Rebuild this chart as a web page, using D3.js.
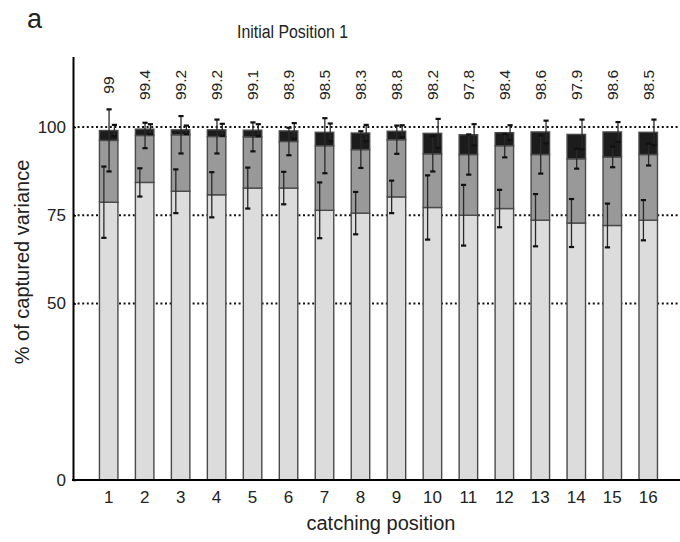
<!DOCTYPE html>
<html>
<head>
<meta charset="utf-8">
<script src="https://cdn.jsdelivr.net/npm/d3@7/dist/d3.min.js"></script>
<style>
  html, body { margin: 0; padding: 0; background: #fff; }
  svg { display: block; font-family: "Liberation Sans", Arial, sans-serif; }
</style>
</head>
<body>
<svg id="chart" width="680" height="542"></svg>
<script>
// Catching positions along the x axis
const positions = ["1","2","3","4","5","6","7","8","9","10","11","12","13","14","15","16"];
// Total captured variance (%) printed above each bar
const totals = [99, 99.4, 99.2, 99.2, 99.1, 98.9, 98.5, 98.3, 98.8, 98.2, 97.8, 98.4, 98.6, 97.9, 98.6, 98.5];
// First component (light segment), % of variance
const pc1 = [78.7, 84.3, 81.8, 80.8, 82.7, 82.7, 76.4, 75.6, 80.2, 77.2, 75.0, 76.9, 73.6, 72.8, 72.1, 73.6];
// Second component (grey segment), % of variance
const pc2 = [17.5, 13.3, 16.0, 16.5, 14.5, 13.2, 18.3, 18.0, 16.2, 15.2, 17.2, 17.8, 18.6, 18.2, 19.4, 18.6];
// Standard deviations of the cumulative values for each component
const sd1 = [10.1, 4.0, 6.2, 6.4, 5.8, 4.6, 7.9, 6.0, 4.6, 9.1, 8.6, 5.3, 7.4, 6.8, 6.2, 5.7];
const sd2 = [8.8, 3.6, 5.3, 4.8, 4.1, 3.9, 7.8, 5.2, 4.0, 5.0, 5.7, 3.3, 5.4, 2.8, 2.9, 3.1];
const sd3 = [1.6, 1.4, 1.2, 1.7, 1.7, 2.2, 2.5, 2.3, 1.7, 4.1, 3.0, 2.1, 3.2, 4.2, 2.8, 3.6];
// Y axis ticks and dotted reference lines
const yTicks = [0, 50, 75, 100];
const gridLines = [50, 75, 100];

const svg = d3.select("#chart");
const W = 680;
const left = 73, bottom = 480;

// third component fills the bar up to the printed total
const rows = positions.map((p, i) => {
  const c1 = pc1[i], c2 = c1 + pc2[i], c3 = totals[i];
  return {
    pos: p,
    segs: [
      {y0: 0, y1: c1, fill: "#dcdcdc"},
      {y0: c1, y1: c2, fill: "#999999"},
      {y0: c2, y1: c3, fill: "#1c1c1c"}
    ],
    errs: [
      {v: c1, sd: sd1[i], off: 0.24},
      {v: c2, sd: sd2[i], off: 0.52},
      {v: c3, sd: sd3[i], off: 0.81}
    ],
    total: totals[i]
  };
});

const y = d3.scaleLinear().domain([0, 120]).range([bottom, 56.4]);
const x = d3.scaleBand().domain(positions)
  .range([90.7, 90.7 + 16 * 35.97])
  .paddingInner(0.486).paddingOuter(0.243);

// dotted reference lines
svg.append("g").selectAll("line").data(gridLines).join("line")
  .attr("x1", left).attr("x2", W)
  .attr("y1", d => y(d)).attr("y2", d => y(d))
  .attr("stroke", "#111").attr("stroke-width", 2)
  .attr("stroke-dasharray", "2,2.6");

// stacked bars
const bars = svg.append("g").selectAll("g").data(rows).join("g");
bars.selectAll("rect").data(d => d.segs.map(s => ({...s, pos: d.pos}))).join("rect")
  .attr("x", d => x(d.pos))
  .attr("width", x.bandwidth())
  .attr("y", d => y(d.y1))
  .attr("height", d => y(d.y0) - y(d.y1))
  .attr("fill", d => d.fill)
  .attr("stroke", "#4a4a4a")
  .attr("stroke-width", 1.4);

// error bars
const errG = bars.selectAll("g.err").data(d => d.errs.map(e => ({...e, pos: d.pos}))).join("g").attr("class", "err");
errG.append("line")
  .attr("x1", d => x(d.pos) + d.off * x.bandwidth())
  .attr("x2", d => x(d.pos) + d.off * x.bandwidth())
  .attr("y1", d => y(d.v + d.sd)).attr("y2", d => y(d.v - d.sd))
  .attr("stroke", "#2a2a2a").attr("stroke-width", 1.3);
errG.selectAll("line.cap").data(d => [d.v + d.sd, d.v - d.sd].map(v => ({v, cx: x(d.pos) + d.off * x.bandwidth()})))
  .join("line").attr("class", "cap")
  .attr("x1", d => d.cx - 2.6).attr("x2", d => d.cx + 2.6)
  .attr("y1", d => y(d.v)).attr("y2", d => y(d.v))
  .attr("stroke", "#111").attr("stroke-width", 2.2);

// totals above the bars
const fmt = v => d3.format(".1f")(v).replace(/\.0$/, "");
svg.append("g").selectAll("text").data(rows).join("text")
  .attr("transform", d => `translate(${x(d.pos) + x.bandwidth() / 2},85) rotate(-90)`)
  .attr("text-anchor", "middle").attr("dy", "0.36em")
  .attr("font-size", 15.5).attr("fill", "#222")
  .text(d => fmt(d.total));

// y axis
const yAxis = svg.append("g").attr("transform", `translate(${left},0)`)
  .call(d3.axisLeft(y).tickValues(yTicks).tickSizeInner(-3).tickSizeOuter(0).tickPadding(7));
yAxis.select(".domain").attr("stroke", "#000").attr("stroke-width", 2);
yAxis.selectAll(".tick line").attr("stroke", "#000").attr("stroke-width", 1.5);
yAxis.selectAll("text").attr("font-size", 17).attr("fill", "#222").attr("font-family", null);

// x axis
const xAxis = svg.append("g").attr("transform", `translate(0,${bottom})`)
  .call(d3.axisBottom(x).tickSize(0).tickPadding(11));
xAxis.select(".domain").remove();
xAxis.selectAll("text").attr("font-size", 17).attr("fill", "#222").attr("font-family", null);
svg.append("line").attr("x1", left - 1).attr("x2", W).attr("y1", bottom).attr("y2", bottom)
  .attr("stroke", "#000").attr("stroke-width", 2);

// titles
svg.append("text").attr("x", 292.5).attr("y", 38).attr("text-anchor", "middle")
  .attr("font-size", 18).attr("fill", "#222")
  .attr("textLength", 111).attr("lengthAdjust", "spacingAndGlyphs")
  .text("Initial Position 1");
svg.append("text").attr("x", 27).attr("y", 28).attr("font-size", 27).attr("fill", "#222").text("a");
svg.append("text").attr("x", 381).attr("y", 530).attr("text-anchor", "middle")
  .attr("font-size", 20).attr("fill", "#222").text("catching position");
svg.append("text").attr("transform", "translate(29,262) rotate(-90)").attr("text-anchor", "middle")
  .attr("font-size", 20).attr("fill", "#222").text("% of captured variance");
</script>
</body>
</html>
